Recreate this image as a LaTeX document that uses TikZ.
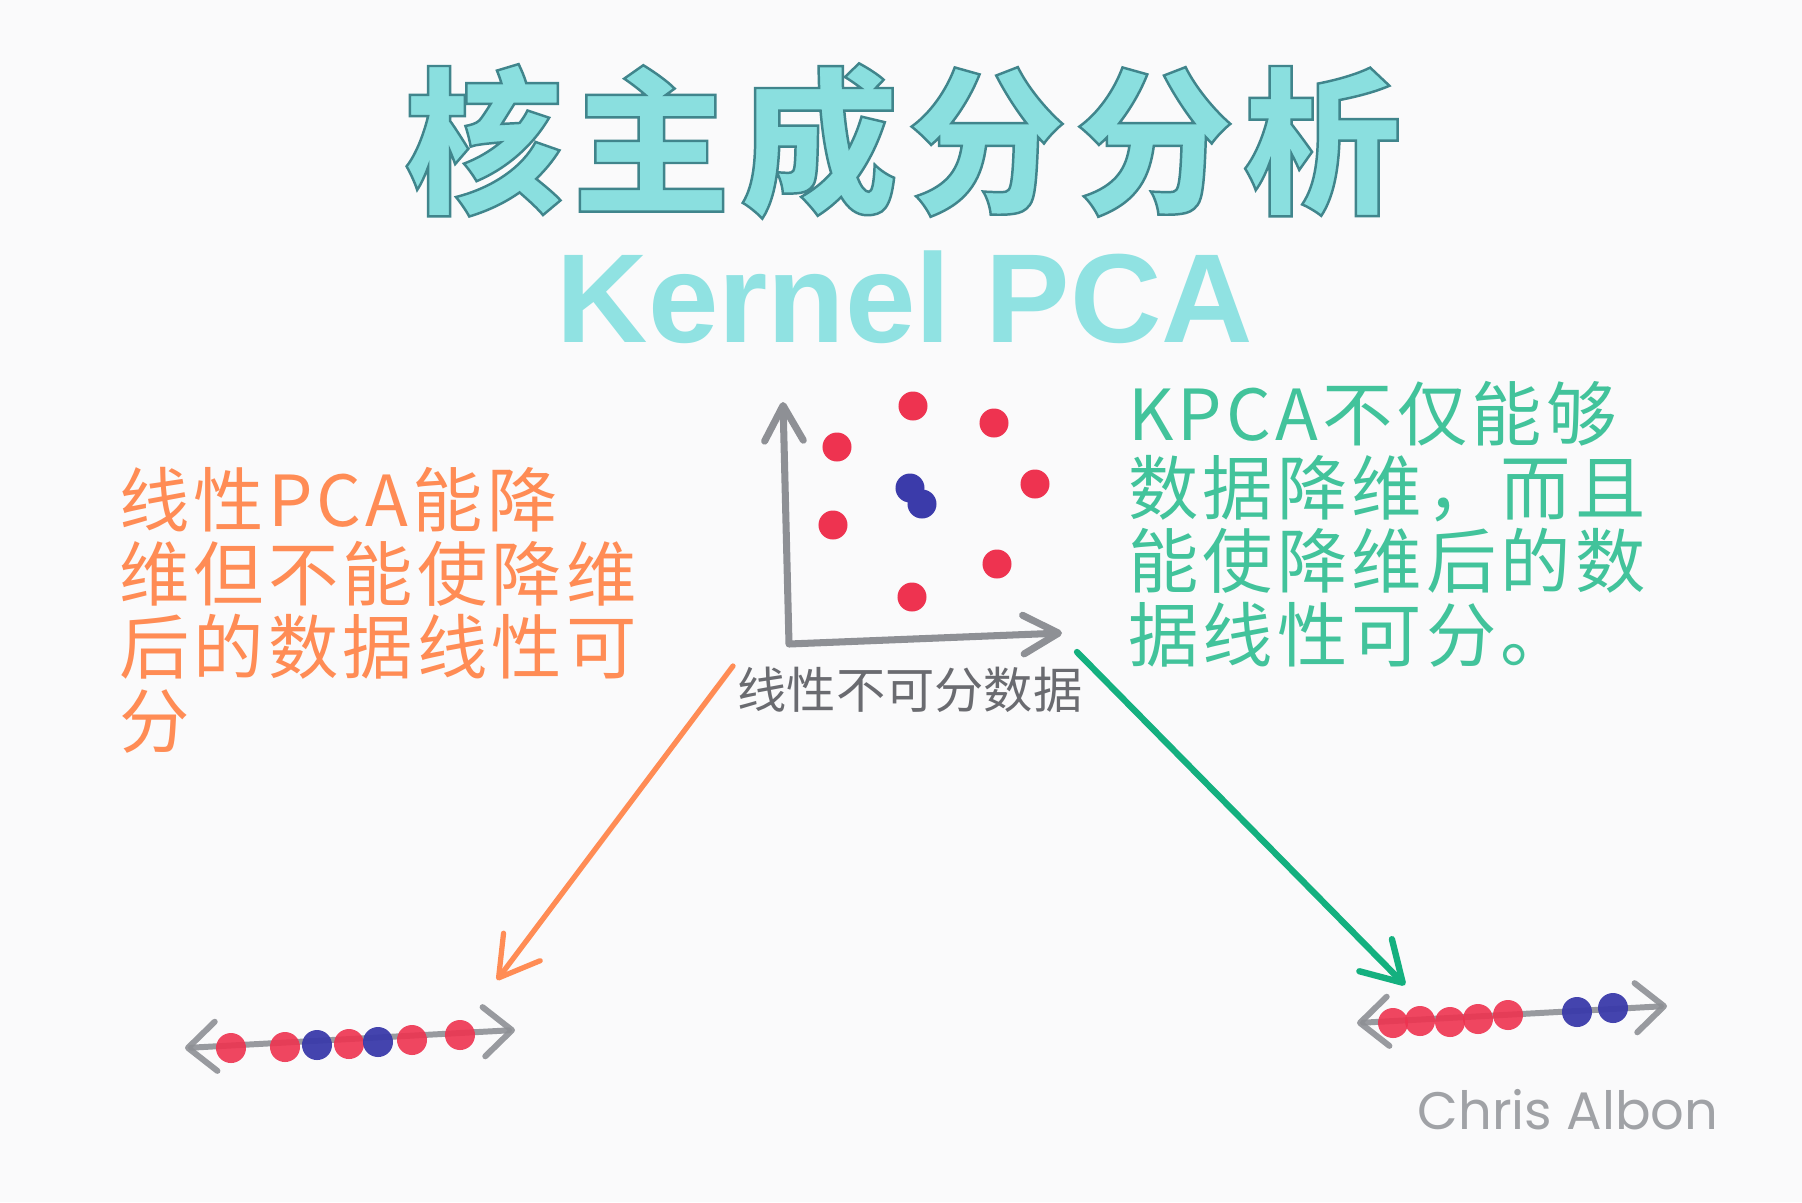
\documentclass[tikz,border=0pt]{standalone}
\usepackage{fontspec}
\usepackage{xcolor}
\usetikzlibrary{arrows.meta,positioning}
\setmainfont{Liberation Sans}
\newfontfamily\cjk{Noto Sans CJK SC}
\newfontfamily\cjkwide[LetterSpace=6]{Noto Sans CJK SC}
\newfontfamily\cjktitle[LetterSpace=6]{Noto Sans CJK SC}
\newfontfamily\signfont{Poppins}
\definecolor{paper}{HTML}{FAFAFB}
\definecolor{titlecyan}{HTML}{8ADFDF}
\definecolor{kernelcyan}{HTML}{90E2E2}
\definecolor{kpcagreen}{HTML}{42C39B}
\definecolor{arrowgreen}{HTML}{14B07F}
\definecolor{pcaorange}{HTML}{FF8C55}
\definecolor{axisgray}{HTML}{8E9095}
\definecolor{labelgray}{HTML}{6A6B70}
\definecolor{signgray}{HTML}{A0A2A6}
\definecolor{dotred}{HTML}{EE3350}
\definecolor{dotblue}{HTML}{3B3BAA}
\newcommand{\outlined}[1]{\special{pdf:literal direct 2 Tr 0.7 w 0.25 0.52 0.55 RG}#1\special{pdf:literal direct 0 Tr}}
\tikzset{
    axishead/.tip={Straight Barb[length=10pt,width=11pt,round]},
    linehead/.tip={Straight Barb[length=8pt,width=14pt,round]},
    penhead/.tip={Straight Barb[length=11pt,width=13pt,round]}
}

\begin{document}
\begin{tikzpicture}[
    x=0.01cm, y=-0.01cm,
    every node/.style={inner sep=0pt, outer sep=0pt},
    reddot/.style={circle, fill=dotred, minimum size=0.29cm},
    bluedot/.style={circle, fill=dotblue, minimum size=0.29cm},
    axis/.style={draw=axisgray, line width=2pt, line cap=round, line join=round},
    numline/.style={draw=axisgray, line width=1.7pt, line cap=round, opacity=0.9},
    note/.style={font=\cjkwide\fontsize{20}{21}\selectfont, align=left, anchor=north west},
    pen/.style={line width=1.5pt, line cap=round}
]
\fill[paper] (0,0) rectangle (1802,1202);
\useasboundingbox (0,0) rectangle (1802,1202);

\node[text=titlecyan, font=\cjktitle\bfseries\fontsize{45}{45}\selectfont] (title) at (903,141) {\outlined{核主成分分析}};
\node[text=kernelcyan, font=\bfseries\fontsize{36}{36}\selectfont, anchor=base] (subtitle) at (905,342) {Kernel PCA};

\coordinate (y_top) at (783,402);
\coordinate (origin) at (789,644);
\coordinate (x_end) at (1062,633);
\draw[axis, {axishead}-{axishead}] (y_top) -- (origin) -- (x_end);

\foreach \px/\py [count=\i] in {913/406, 994/423, 837/447, 1035/484, 833/525, 997/564, 912/597}
    \node[reddot] (red\i) at (\px,\py) {};
\node[bluedot] (blue1) at (910,488) {};
\node[bluedot] (blue2) at (922,504) {};

\node[text=labelgray, font=\cjk\fontsize{14}{14}\selectfont] (nonlin_label) at (910,690) {线性不可分数据};

\node[note, text=pcaorange] (pca_note) at (119,467) {线性PCA能降\\维但不能使降维\\后的数据线性可\\分};
\node[note, text=kpcagreen] (kpca_note) at (1128,381) {KPCA不仅能够\\数据降维，而且\\能使降维后的数\\据线性可分。};

\coordinate (pca_left) at (185,1048);
\coordinate (pca_right) at (515,1030);
\draw[numline, {linehead}-{linehead}] (pca_left) -- (pca_right);
\foreach \px/\py [count=\i] in {231/1048, 285/1047, 349/1044, 412/1040, 460/1035}
    \node[reddot, opacity=0.9, minimum size=0.3cm] (pca_red\i) at (\px,\py) {};
\foreach \px/\py [count=\i] in {317/1045, 378/1042}
    \node[bluedot, opacity=0.95, minimum size=0.3cm] (pca_blue\i) at (\px,\py) {};

\coordinate (kpca_left) at (1357,1023);
\coordinate (kpca_right) at (1667,1006);
\draw[numline, {linehead}-{linehead}] (kpca_left) -- (kpca_right);
\foreach \px/\py [count=\i] in {1393/1023, 1420/1021, 1450/1022, 1478/1019, 1508/1015}
    \node[reddot, opacity=0.9, minimum size=0.3cm] (kpca_red\i) at (\px,\py) {};
\foreach \px/\py [count=\i] in {1577/1012, 1613/1008}
    \node[bluedot, opacity=0.95, minimum size=0.3cm] (kpca_blue\i) at (\px,\py) {};

\coordinate (orange_from) at (733,666);
\coordinate (orange_to) at (497,980);
\coordinate (green_from) at (1077,652);
\coordinate (green_to) at (1405,985);
\draw[pen, draw=pcaorange, -{penhead}] (orange_from) -- (orange_to);
\draw[pen, draw=arrowgreen, line width=1.8pt, -{penhead}] (green_from) -- (green_to);

\node[text=signgray, font=\signfont\fontsize{15}{15}\selectfont] (signature) at (1568,1110) {Chris Albon};

\end{tikzpicture}
\end{document}
